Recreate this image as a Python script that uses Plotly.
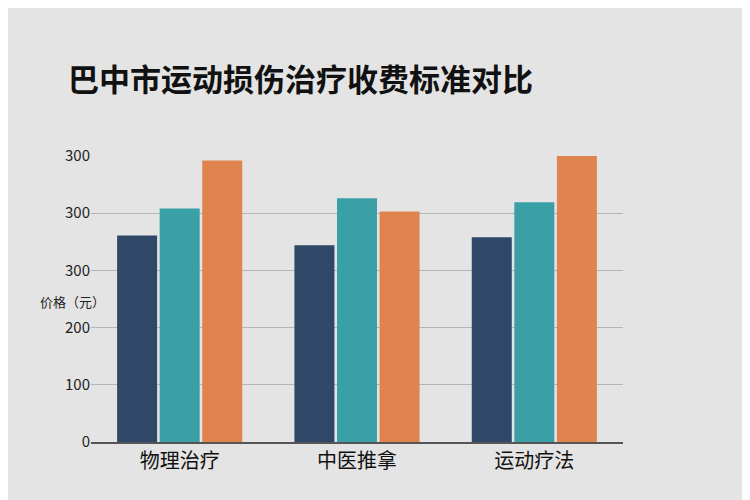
import plotly.graph_objects as go

categories = ["物理治疗", "中医推拿", "运动疗法"]
series_a = [361, 344, 358]
series_b = [408, 426, 419]
series_c = [492, 403, 503]
tick_vals = [0, 100, 200, 300, 400, 500]
tick_text = ["0", "100", "200", "300", "300", "300"]

colors = ["#2f4868", "#3aa0a6", "#e0844f"]
fig = go.Figure()
for vals, c in zip([series_a, series_b, series_c], colors):
    fig.add_trace(go.Bar(x=categories, y=vals, marker_color=c, marker_line_width=0))

fig.update_layout(
    width=750, height=500, barmode="group", bargap=0.28, bargroupgap=0.06,
    paper_bgcolor="#e4e4e4", plot_bgcolor="#e4e4e4", showlegend=False,
    margin=dict(l=83, r=135, t=148, b=66),
    font=dict(family="Noto Sans CJK SC", color="#222"),
    title=dict(text="<b>巴中市运动损伤治疗收费标准对比</b>", x=0.08, xanchor="left",
               y=0.855, yanchor="middle", font=dict(size=31, color="#111")),
    xaxis=dict(tickfont=dict(size=20, color="#111"), showline=True, linecolor="#555", linewidth=1.5, ticks=""),
    yaxis=dict(range=[0, 500], tickvals=tick_vals, ticktext=tick_text, gridcolor="#b5b5b5",
               tickfont=dict(size=15, color="#222"), zeroline=False),
    annotations=[dict(text="价格（元）", x=0, y=0.49, xref="paper", yref="paper", xanchor="left",
                      showarrow=False, font=dict(size=13, color="#222"), xshift=-53)],
)
fig.write_html("out.html")
